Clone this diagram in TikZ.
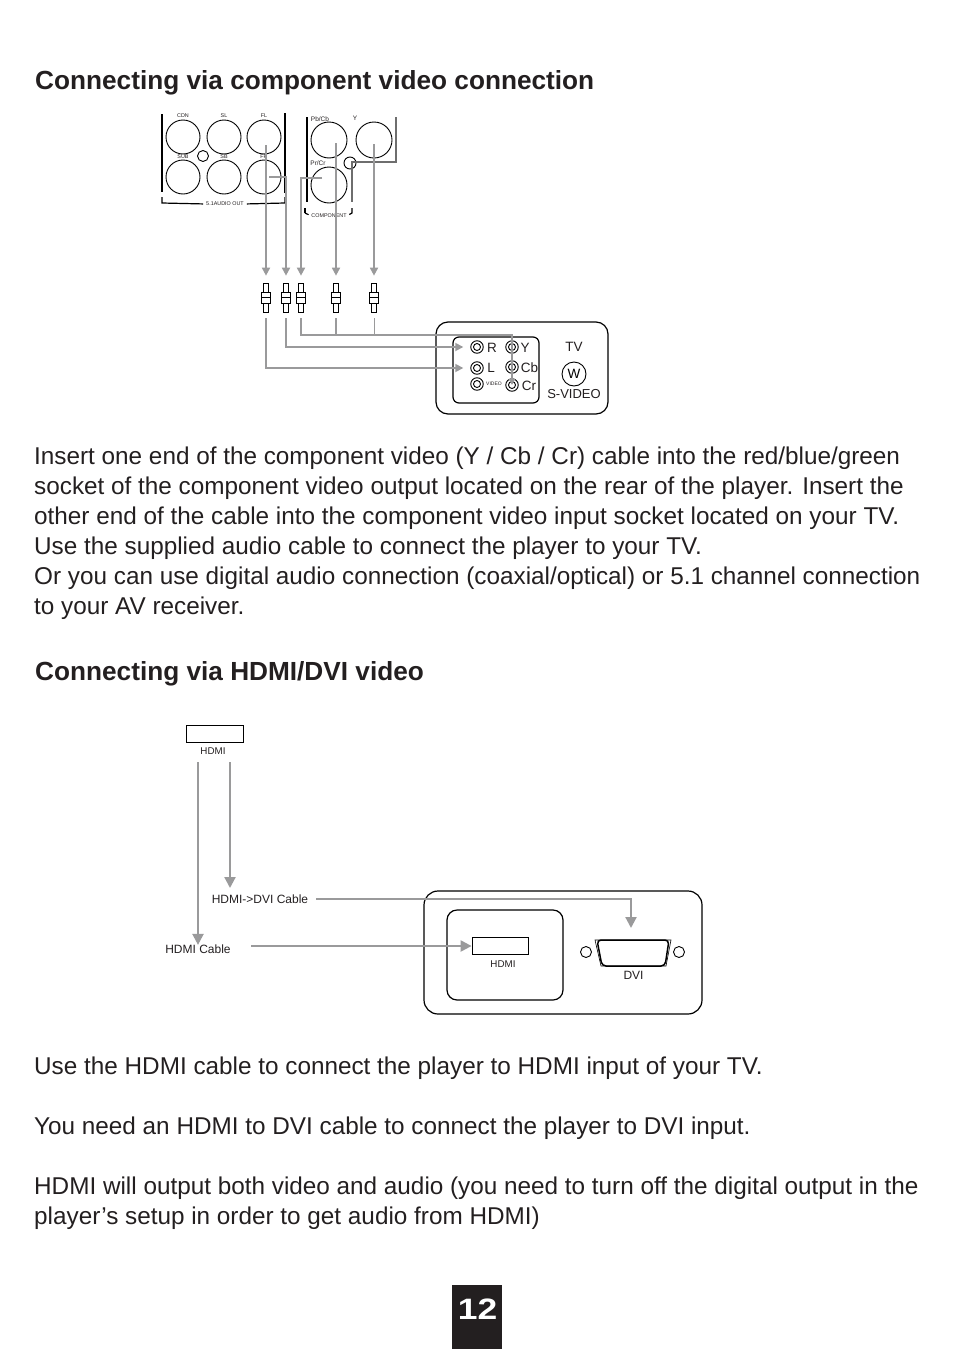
\documentclass[tikz,border=0pt]{standalone}
\usepackage{fontspec}
\setmainfont{Liberation Sans}
\usepackage{tikz}
\usetikzlibrary{arrows.meta,positioning,calc}
\definecolor{pageink}{HTML}{231F20}
\definecolor{leadgrey}{HTML}{9A9A9B}
\definecolor{darklead}{HTML}{6E6E6E}
\tikzset{
  % page text
  heading/.style={
    anchor=base west, inner sep=0pt, text=pageink,
    font=\fontsize{26.2}{30}\selectfont\bfseries,
  },
  bodytext/.style={
    anchor=north west, inner sep=0pt, text=pageink, align=left,
    font=\fontsize{24.3}{30}\selectfont,
  },
  % round jacks on the rear panel
  jack/.style={draw=black, line width=0.9pt, circle, inner sep=0pt, minimum size=#1},
  % double rings on the TV
  ring/.style={draw=black, line width=0.9pt, circle, inner sep=0pt, minimum size=12.5pt},
  ringin/.style={draw=black, line width=0.9pt, circle, inner sep=0pt, minimum size=7pt},
  tiny/.style={font=\fontsize{6.5}{7}\selectfont, inner sep=0pt, text=pageink},
  tinier/.style={font=\fontsize{5.4}{6}\selectfont, inner sep=0pt, text=pageink},
  panelabel/.style={font=\fontsize{13.5}{14}\selectfont, inner sep=0pt, text=pageink},
  cablelabel/.style={font=\fontsize{12}{13}\selectfont, inner sep=0pt, text=pageink},
  portlabel/.style={font=\fontsize{9.8}{11}\selectfont, inner sep=0pt, text=pageink},
  panel/.style={draw=black, line width=1.2pt},
  % cable leads
  lead/.style={draw=leadgrey, line width=1.7pt,
    -{Triangle[length=8pt,width=8pt]}},
  leadbig/.style={draw=leadgrey, line width=2.2pt,
    -{Triangle[length=11pt,width=11pt]}},
  plugbody/.style={draw=black, line width=0.7pt, minimum width=9pt, minimum height=11pt, inner sep=0pt, fill=white},
  plugtip/.style={draw=black, line width=0.7pt, minimum width=5pt, minimum height=9pt, inner sep=0pt},
}

\begin{document}
\begin{tikzpicture}[x=1pt,y=-1pt]
  \useasboundingbox (0,0) rectangle (954,1349);

  % ---- page text -----------------------------------------------------------
  \node[heading] (headone) at (35,89) {Connecting via component video connection};
  \node[bodytext] (paraone) at (34,446.5)
    {Insert one end of the component video (Y / Cb / Cr) cable into the red/blue/green\\
     socket of the component video output located on the rear of the player. Insert the\\
     other end of the cable into the component video input socket located on your TV.\\
     Use the supplied audio cable to connect the player to your TV.\\
     Or you can use digital audio connection (coaxial/optical) or 5.1 channel connection\\
     to your AV receiver.};
  \node[heading] (headtwo) at (35,680) {Connecting via HDMI/DVI video};
  \node[bodytext] (paratwo) at (34,1056.5)
    {Use the HDMI cable to connect the player to HDMI input of your TV.\\[30pt]
     You need an HDMI to DVI cable to connect the player to DVI input.\\[30pt]
     HDMI will output both video and audio (you need to turn off the digital output in the\\
     player’s setup in order to get audio from HDMI)};

  % ---- page number ---------------------------------------------------------
  \node[fill=pageink, minimum width=50pt, minimum height=64pt, inner sep=0pt] (pagebox) at (477,1317) {};
  \node[text=white, inner sep=0pt, font=\fontsize{29.5}{30}\selectfont\bfseries] (pagenum) at (477.5,1309.5)
    {\scalebox{1.2}[1]{12}};

  % ---- rear panel, audio out -----------------------------------------------
  \foreach \name/\cx/\cy in {cdn/183/137, sl/224/137, fl/264/137,
                             sub/183/177, sb/224/177, fr/264/177}
    \node[jack=34pt] (\name) at (\cx,\cy) {};
  \node[jack=11pt] (optic) at (203,156) {};
  \foreach \name/\cx/\cy/\txt in {cdnl/183/116/CDN, sll/224/116/SL, fll/264/116/FL,
                                  subl/183/156.5/SUB, sbl/224/156.5/SB, frl/264/156.5/FR,
                                  audiol/225/204/5.1AUDIO OUT, compl/329/216/COMPONENT}
    \node[tinier] (\name) at (\cx,\cy) {\txt};
  \foreach \name/\cx/\cy/\txt in {pbl/320/119/Pb\slash Cb, yl/355/118/Y, prl/318/163/Pr\slash Cr}
    \node[tiny] (\name) at (\cx,\cy) {\txt};
  \draw[panel] (162,114) -- (162,192);
  \draw[line width=1.6pt] (285,113) -- (285,193);
  \draw[panel,shorten >=3pt] (162,197) -- (162,203) -- (audiol.west);
  \draw[panel,shorten <=3pt] (audiol.east) -- (285,203) -- (285,197);

  % ---- rear panel, component -----------------------------------------------
  \node[jack=36pt] (pb) at (329,140) {};
  \node[jack=36pt] (yj) at (374,140) {};
  \node[jack=36pt] (pr) at (329,185) {};
  \node[jack=12pt] (coax) at (350,163) {};
  \draw[panel] (307,117) -- (307,202);
  \draw[panel,shorten >=3pt] (305,213) -- (compl.west);
  \draw[line width=1.4pt] (305,208) -- (305,213);
  \draw[panel,shorten <=3pt] (compl.east) -- (352,213) -- (352,208);
  \draw[line width=1.4pt,draw=darklead] (396,117) -- (396,162) -- (352,162) -- (352,202);

  % ---- the five plugs ------------------------------------------------------
  \foreach \name/\px in {plga/266, plgb/286, plgc/301, plgd/336, plge/374} {
    \node[plugtip] (\name top) at (\px,287.5) {};
    \node[plugtip] (\name low) at (\px,307.5) {};
    \node[plugbody] (\name) at (\px,297.5) {};
    \draw[line width=0.7pt] (\name.west) -- (\name.east);
    \coordinate (\name out) at (\px,318);
  }

  % ---- leads down to the plugs ---------------------------------------------
  \coordinate (flin) at (266,145);
  \coordinate (frin) at (269,177);
  \coordinate (frdrop) at (286,177);
  \coordinate (prin) at (322,178);
  \coordinate (prdrop) at (301,178);
  \coordinate (pbin) at (336,143);
  \coordinate (yin) at (374,144);
  \draw[lead,shorten >=7pt] (flin) -- (plgatop.north);
  \draw[lead,shorten >=7pt] (frin) -- (frdrop) -- (plgbtop.north);
  \draw[lead,shorten >=7pt] (prin) -- (prdrop) -- (plgctop.north);
  \draw[lead,shorten >=7pt] (pbin) -- (plgdtop.north);
  \draw[lead,shorten >=7pt] (yin) -- (plgetop.north);

  % ---- the TV with component input -----------------------------------------
  \node[panel, rounded corners=12pt, minimum width=172pt, minimum height=92pt, inner sep=0pt]
    (tvbox) at (522,368) {};
  \node[panel, rounded corners=6pt, minimum width=86pt, minimum height=66pt, inner sep=0pt]
    (tvinner) at (496,370) {};
  \foreach \name/\cx/\cy in {rr/477/347, rl/477/368, rv/477/384,
                             ry/512/347, rb/512/367, rc/512/385} {
    \node[ring] (\name) at (\cx,\cy) {};
    \node[ringin] at (\name.center) {};
  }
  \node[panelabel] (rrl) at (492,348) {R};
  \node[panelabel] (rll) at (491,368) {L};
  \node[panelabel] (ryl) at (525,348) {Y};
  \node[panelabel] (rbl) at (529.5,368) {Cb};
  \node[panelabel] (rcl) at (529,386) {Cr};
  \node[font=\fontsize{5}{6}\selectfont, inner sep=0pt, text=pageink] (rvl) at (494,384) {VIDEO};
  \node[panelabel] (tvl) at (574,347) {TV};
  \node[draw=black, line width=0.9pt, circle, minimum size=24pt, inner sep=0pt,
        font=\fontsize{13.5}{14}\selectfont] (svid) at (574,374) {W};
  \node[font=\fontsize{13}{14}\selectfont, inner sep=0pt, text=pageink] (svidl) at (574,394) {S-VIDEO};

  % ---- leads into the TV ---------------------------------------------------
  \draw[lead,shorten >=7pt] (plgaout) -- (266,368) -- (rl.west);
  \draw[lead,shorten >=7pt] (plgbout) -- (286,347) -- (rr.west);
  \draw[lead,-{Triangle[length=6pt,width=6pt]}] (plgcout) -- (301,335) -- (512,335) -- (rc.center);
  \draw[draw=leadgrey,line width=1.7pt] (plgdout) -- (336,335);
  \draw[draw=leadgrey,line width=0.8pt] (plgeout) -- (374,335);

  % ---- HDMI source ---------------------------------------------------------
  \node[draw=black, line width=0.8pt, minimum width=57pt, minimum height=17pt, inner sep=0pt] (hdmisrc) at (214.5,733.5) {};
  \node[portlabel] (hdmisrcl) at (213,751) {HDMI};
  \coordinate (cableone) at (198,762);
  \coordinate (cabletwo) at (230,762);
  \node[cablelabel] (dvicable) at (260,899) {HDMI->DVI Cable};
  \node[cablelabel] (hdmicable) at (198,949.5) {HDMI Cable};
  \draw[leadbig] (cableone) -- (hdmicable.north);
  \draw[leadbig] (cabletwo) -- (230,888);

  % ---- the TV with HDMI and DVI --------------------------------------------
  \node[panel, rounded corners=14pt, minimum width=278pt, minimum height=123pt, inner sep=0pt]
    (tvtwo) at (563,952.5) {};
  \node[panel, rounded corners=10pt, minimum width=116pt, minimum height=90pt, inner sep=0pt]
    (hdmibay) at (505,955) {};
  \node[draw=black, line width=0.8pt, minimum width=56pt, minimum height=17pt, inner sep=0pt] (hdmiport) at (500,946) {};
  \node[portlabel] (hdmiportl) at (503,964.5) {HDMI};
  \draw[line width=0.6pt] (595,940) -- (671,940) -- (666,966) -- (601,966) -- cycle;
  \draw[line width=1.5pt,rounded corners=4pt] (597,940) -- (669,940) -- (665,966) -- (602,966) -- cycle;
  \node[cablelabel] (dvil) at (633.5,975) {DVI};
  \node[jack=11pt] (screwa) at (586,952) {};
  \node[jack=11pt] (screwb) at (679,952) {};

  % ---- and the two cables --------------------------------------------------
  \coordinate (dvistart) at (316,899);
  \coordinate (hdmistart) at (251,946);
  \draw[leadbig] (dvistart) -- (631,899) -- (631,928);
  \draw[leadbig] (hdmistart) -- (hdmiport.west);

\end{tikzpicture}
\end{document}
